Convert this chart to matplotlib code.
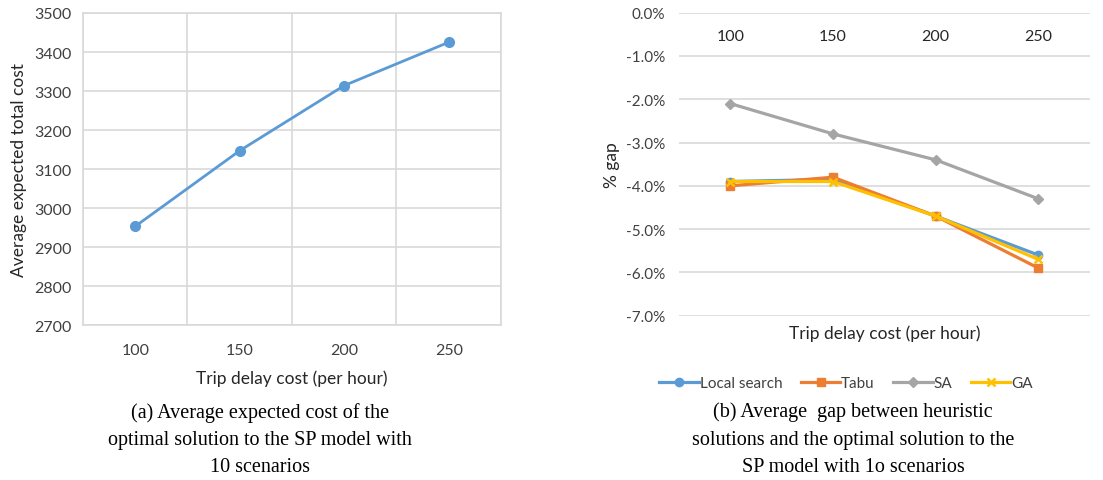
import matplotlib

matplotlib.use("Agg")

import matplotlib.pyplot as plt
from matplotlib.ticker import FuncFormatter

delay_costs = ["100", "150", "200", "250"]
expected_cost = [2953, 3147, 3314, 3425]

gap_local_search = [-3.9, -3.85, -4.7, -5.6]
gap_tabu = [-4.0, -3.8, -4.7, -5.9]
gap_sa = [-2.1, -2.8, -3.4, -4.3]
gap_ga = [-3.9, -3.9, -4.7, -5.7]

COLORS = {
    "blue": "#5B9BD5",
    "orange": "#ED7D31",
    "gray": "#A5A5A5",
    "gold": "#FFC000",
    "grid": "#D9D9D9",
    "text": "#404040",
}

plt.rcParams["font.family"] = ["Lato", "DejaVu Sans"]

figure = plt.figure(figsize=(11.03, 4.81), dpi=100)
positions = list(range(1, len(delay_costs) + 1))

# (a) expected total cost
left = figure.add_axes([0.0752, 0.3222, 0.379, 0.6487])
left.plot(positions, expected_cost, color=COLORS["blue"], linewidth=2,
          marker="o", markersize=7, zorder=3)
left.set_xlim(0.5, 4.5)
left.set_ylim(2700, 3500)
left.set_yticks(range(2700, 3501, 100))
left.set_xticks(positions)
left.set_xticklabels(delay_costs)
left.set_xticks([p + 0.5 for p in range(0, 5)], minor=True)
left.grid(which="major", axis="y", color=COLORS["grid"], linewidth=1.2)
left.grid(which="minor", axis="x", color=COLORS["grid"], linewidth=1.2)
left.tick_params(which="both", length=0, labelsize=11.5, labelcolor=COLORS["text"])
left.tick_params(axis="x", pad=13)
left.tick_params(axis="y", pad=8)
for spine in left.spines.values():
    spine.set_color(COLORS["grid"])
    spine.set_linewidth(1.2)
left.set_xlabel("Trip delay cost (per hour)", fontsize=12.5, color="#262626", labelpad=9)
left.set_ylabel("Average expected total cost", fontsize=12.5, color="#262626", labelpad=5)

# (b) gap of heuristics
right = figure.add_axes([0.6156, 0.3416, 0.3724, 0.6299])
series = [
    ("Local search", gap_local_search, COLORS["blue"], "o", 6),
    ("Tabu", gap_tabu, COLORS["orange"], "s", 6),
    ("SA", gap_sa, COLORS["gray"], "D", 5),
    ("GA", gap_ga, COLORS["gold"], "x", 6),
]
for name, values, color, marker, size in series:
    right.plot(positions, values, color=color, linewidth=2.3, marker=marker,
               markersize=size, markeredgewidth=1.8 if marker == "x" else 1,
               label=name)
right.set_xlim(0.5, 4.5)
right.set_ylim(-7.0, 0.0)
right.set_yticks([-7, -6, -5, -4, -3, -2, -1, 0])
right.yaxis.set_major_formatter(FuncFormatter(lambda v, _: f"{v:.1f}%"))
right.xaxis.tick_top()
right.set_xticks(positions)
right.set_xticklabels(delay_costs)
right.tick_params(axis="x", length=0, labelsize=11.5, labelcolor="#262626", pad=-22)
right.tick_params(axis="y", length=0, labelsize=11, labelcolor=COLORS["text"], pad=10)
right.grid(axis="y", color=COLORS["grid"], linewidth=1.2)
right.set_axisbelow(True)
for spine in right.spines.values():
    spine.set_visible(False)
right.set_ylabel("% gap", fontsize=12.5, color="#262626", labelpad=4)
right.text(0.5, -0.03, "Trip delay cost (per hour)", transform=right.transAxes,
           ha="center", va="top", fontsize=12.5, color="#262626")
right.legend(loc="center", bbox_to_anchor=(846 / 1103, 1 - 384 / 481),
             bbox_transform=figure.transFigure, ncol=4, frameon=False,
             fontsize=11, handlelength=2.6, handletextpad=0.05, columnspacing=1.2,
             labelcolor=COLORS["text"])

caption_a = ("(a) Average expected cost of the\n"
             "optimal solution to the SP model with\n"
             "10 scenarios")
caption_b = ("(b) Average  gap between heuristic\n"
             "solutions and the optimal solution to the\n"
             "SP model with 1o scenarios")
for x, caption in ((260 / 1103, caption_a), (853 / 1103, caption_b)):
    figure.text(x, 1 - 440 / 481, caption, ha="center", va="center",
                fontsize=14.5, family=["Liberation Serif"], linespacing=1.6)

figure.savefig("out.png", dpi=100, facecolor="white")
